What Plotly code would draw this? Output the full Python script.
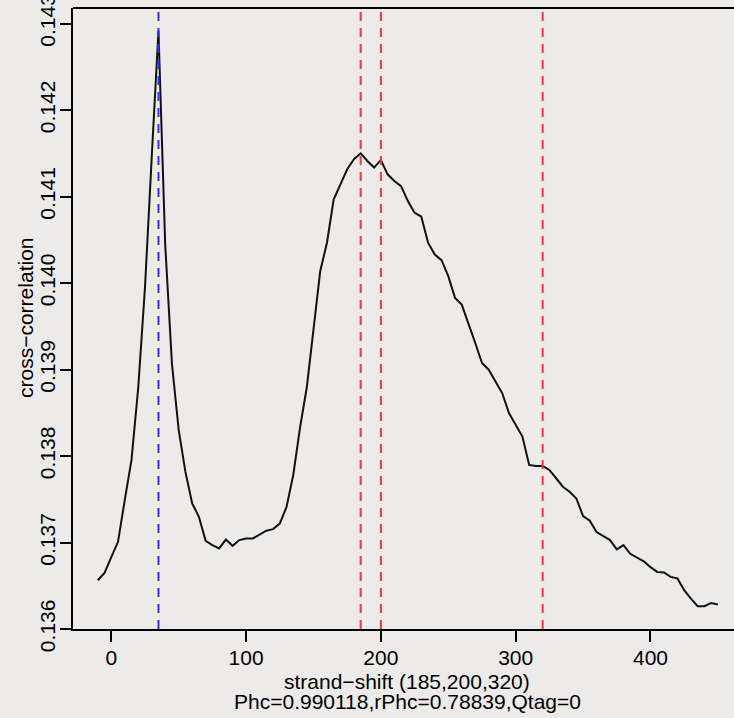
import plotly.graph_objects as go

# strand shift (bp) and cross-correlation values
shift = [-10, -5, 0, 5, 10, 15, 20, 25, 30, 35, 40, 45, 50, 55, 60, 65, 70, 75, 80, 85,
         90, 95, 100, 105, 110, 115, 120, 125, 130, 135, 140, 145, 150, 155, 160, 165,
         170, 175, 180, 185, 190, 195, 200, 205, 210, 215, 220, 225, 230, 235, 240, 245,
         250, 255, 260, 265, 270, 275, 280, 285, 290, 295, 300, 305, 310, 315, 320, 325,
         330, 335, 340, 345, 350, 355, 360, 365, 370, 375, 380, 385, 390, 395, 400, 405,
         410, 415, 420, 425, 430, 435, 440, 445, 450]
cross_corr = [0.136564, 0.136649, 0.136831, 0.137008, 0.137491, 0.137955, 0.138789,
              0.139948, 0.141454, 0.142917, 0.140446, 0.139067, 0.138302, 0.137816,
              0.137453, 0.137298, 0.137020, 0.136970, 0.136932, 0.137034, 0.136962,
              0.137028, 0.137047, 0.137047, 0.137091, 0.137136, 0.137155, 0.137219,
              0.137410, 0.137781, 0.138326, 0.138789, 0.139461, 0.140137, 0.140466,
              0.140967, 0.141141, 0.141315, 0.141431, 0.141500, 0.141411, 0.141335,
              0.141423, 0.141257, 0.141179, 0.141121, 0.140948, 0.140813, 0.140767,
              0.140466, 0.140330, 0.140264, 0.140079, 0.139828, 0.139751, 0.139539,
              0.139307, 0.139075, 0.138998, 0.138862, 0.138728, 0.138496, 0.138360,
              0.138225, 0.137897, 0.137885, 0.137885, 0.137839, 0.137743, 0.137645,
              0.137587, 0.137509, 0.137306, 0.137251, 0.137120, 0.137074, 0.137028,
              0.136921, 0.136970, 0.136869, 0.136827, 0.136782, 0.136715, 0.136660,
              0.136654, 0.136603, 0.136584, 0.136448, 0.136352, 0.136263, 0.136263,
              0.136301, 0.136283]

blue_lines = [35]
red_lines = [185, 200, 320]

x_ticks = [0, 100, 200, 300, 400]
y_ticks = [0.136, 0.137, 0.138, 0.139, 0.140, 0.141, 0.142, 0.143]
y_tick_labels = ["0.136", "0.137", "0.138", "0.139", "0.140", "0.141", "0.142", "0.143"]

x_title = "strand\u2212shift (185,200,320)"
sub_title = "Phc=0.990118,rPhc=0.78839,Qtag=0"
y_title = "cross\u2212correlation"

FONT = "Liberation Sans, Arial, Helvetica, sans-serif"
BG = "#ecebe9"

# page body margin is removed (post_script), so the figure sits at (0, 0)
FIG_W, FIG_H = 734, 718
PL, PT, PB = 73, 8, 629          # plot box in pixels
PLOT_W, PLOT_H = FIG_W - PL, PB - PT

def xpaper(wx):
    return (wx - PL) / PLOT_W

def ypaper(wy):
    return (PB - wy) / PLOT_H

fig = go.Figure()
fig.add_trace(go.Scatter(x=shift, y=cross_corr, mode="lines",
                         line=dict(color="#111111", width=2), showlegend=False,
                         hoverinfo="skip"))

shapes = []
for v in blue_lines:
    shapes.append(dict(type="line", xref="x", yref="paper", x0=v, x1=v, y0=0, y1=1,
                       line=dict(color="#3333ff", width=2, dash="9px,7px")))
for v in red_lines:
    shapes.append(dict(type="line", xref="x", yref="paper", x0=v, x1=v, y0=0, y1=1,
                       line=dict(color="#ff3333", width=2, dash="9px,7px")))
# top border of the box
shapes.append(dict(type="line", xref="paper", yref="paper", x0=0, x1=1, y0=1, y1=1,
                   line=dict(color="black", width=2)))

annotations = [
    dict(text=x_title, xref="paper", yref="paper", x=xpaper(407), y=ypaper(681),
         xanchor="center", yanchor="middle", showarrow=False,
         font=dict(family=FONT, size=21, color="black")),
    dict(text=sub_title, xref="paper", yref="paper", x=xpaper(407), y=ypaper(701),
         xanchor="center", yanchor="middle", showarrow=False,
         font=dict(family=FONT, size=21, color="black")),
    dict(text=y_title, xref="paper", yref="paper", x=xpaper(25), y=ypaper(318),
         xanchor="center", yanchor="middle", showarrow=False, textangle=-90,
         font=dict(family=FONT, size=21, color="black")),
]

fig.update_layout(
    width=FIG_W, height=FIG_H,
    margin=dict(l=PL, r=0, t=PT, b=FIG_H - PB, pad=0, autoexpand=False),
    paper_bgcolor=BG, plot_bgcolor=BG,
    font=dict(family=FONT, size=21, color="black"),
    shapes=shapes, annotations=annotations,
    xaxis=dict(range=[-28.4, 461.96], tickmode="array", tickvals=x_ticks,
               ticks="outside", ticklen=11, tickwidth=2, tickcolor="black",
               showline=True, linewidth=2, linecolor="black", showgrid=False,
               zeroline=False, automargin=False, ticklabeloverflow="allow",
               ticklabelstandoff=-2,
               tickfont=dict(family=FONT, size=21, color="black")),
    yaxis=dict(range=[0.136, 0.14318], tickmode="array", tickvals=y_ticks,
               ticktext=y_tick_labels, tickangle=-90,
               ticks="outside", ticklen=11, tickwidth=2, tickcolor="black",
               showline=True, linewidth=2, linecolor="black", showgrid=False,
               zeroline=False, automargin=False, ticklabeloverflow="allow",
               ticklabelstandoff=-3,
               tickfont=dict(family=FONT, size=21, color="black")),
)

fig.write_html("out.html",
               config={"displayModeBar": False},
               post_script="document.body.style.margin='0';"
                           "document.body.style.background='" + BG + "';")
